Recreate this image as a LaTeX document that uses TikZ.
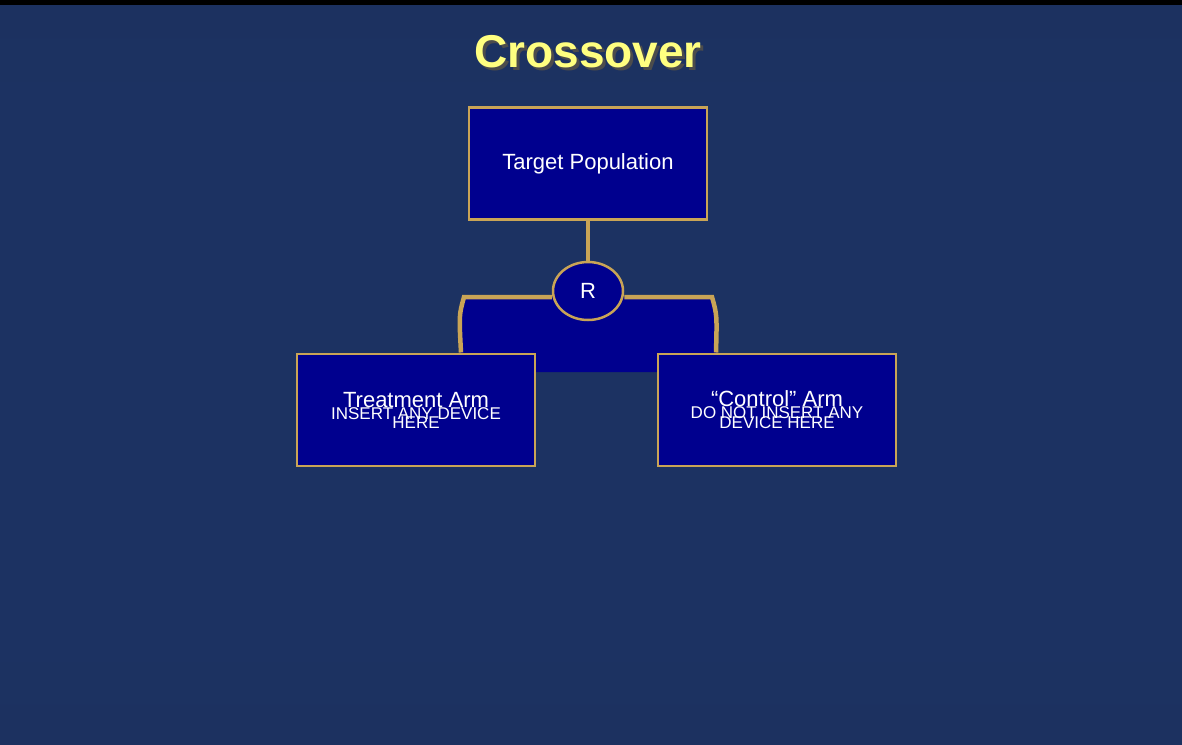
\documentclass[tikz,border=0pt]{standalone}
\usepackage{fontspec}
\setmainfont{Liberation Sans}
\usetikzlibrary{shapes.geometric}
\definecolor{bx}{HTML}{00008E}
\definecolor{gd}{HTML}{C9A456}
\definecolor{ttl}{HTML}{FFFF80}
\definecolor{bgdark}{HTML}{1A1A1C}
\definecolor{bgblue}{HTML}{1C3262}
\pgfdeclareverticalshading{bgsh}{1182bp}{color(0bp)=(bgdark); color(150bp)=(bgdark); color(354bp)=(bgblue); color(390bp)=(bgblue); color(600bp)=(bgdark); color(744bp)=(bgdark)}
\tikzset{
  box/.style={draw=gd, line width=2.5pt, fill=bx, text=white, minimum width=238pt, minimum height=112pt, inner sep=0pt, align=center},
  gline/.style={draw=gd, line width=4.5pt}
}
\begin{document}
\begin{tikzpicture}[x=1pt,y=-1pt]
\useasboundingbox (0,0) rectangle (1182,744);
\shade[shading=bgsh] (0,0) rectangle (1182,744);
\fill[black] (0,0) rectangle (1182,5);
\node[text=black!70, font=\bfseries\fontsize{46}{50}\selectfont] at (591,55) {Crossover};
\node[text=ttl, font=\bfseries\fontsize{46}{50}\selectfont] (title) at (588,52) {Crossover};
\fill[bx] (462,297) -- (714,297) .. controls (718,320) .. (718,372) -- (460,372) .. controls (460,320) .. (462,297) -- cycle;
\node[box, font=\fontsize{22}{26}\selectfont] (tp) at (588,163.5) {Target Population};
\node[draw=gd, line width=2.5pt, fill=bx, ellipse, minimum width=70pt, minimum height=58pt, inner sep=0pt, text=white, font=\fontsize{22}{26}\selectfont] (r) at (588,291) {R};
\draw[gline] (tp.south) -- (r.north);
\node[box] (ta) at (416,410) {{\fontsize{22}{26}\selectfont Treatment Arm}\\[-1pt]{\fontsize{17}{22}\selectfont INSERT ANY DEVICE}\\[-3pt]{\fontsize{17}{22}\selectfont HERE}};
\node[box] (ca) at (777,410) {{\fontsize{22}{26}\selectfont “Control” Arm}\\[-1pt]{\fontsize{17}{22}\selectfont DO NOT INSERT ANY}\\[-3pt]{\fontsize{17}{22}\selectfont DEVICE HERE}};
\draw[gline] (r.west |- 0,297) -- (464,297) .. controls (459,315) .. (461,352.5);
\draw[gline] (r.east |- 0,297) -- (712,297) .. controls (717,315) .. (716,352.5);
\end{tikzpicture}
\end{document}
